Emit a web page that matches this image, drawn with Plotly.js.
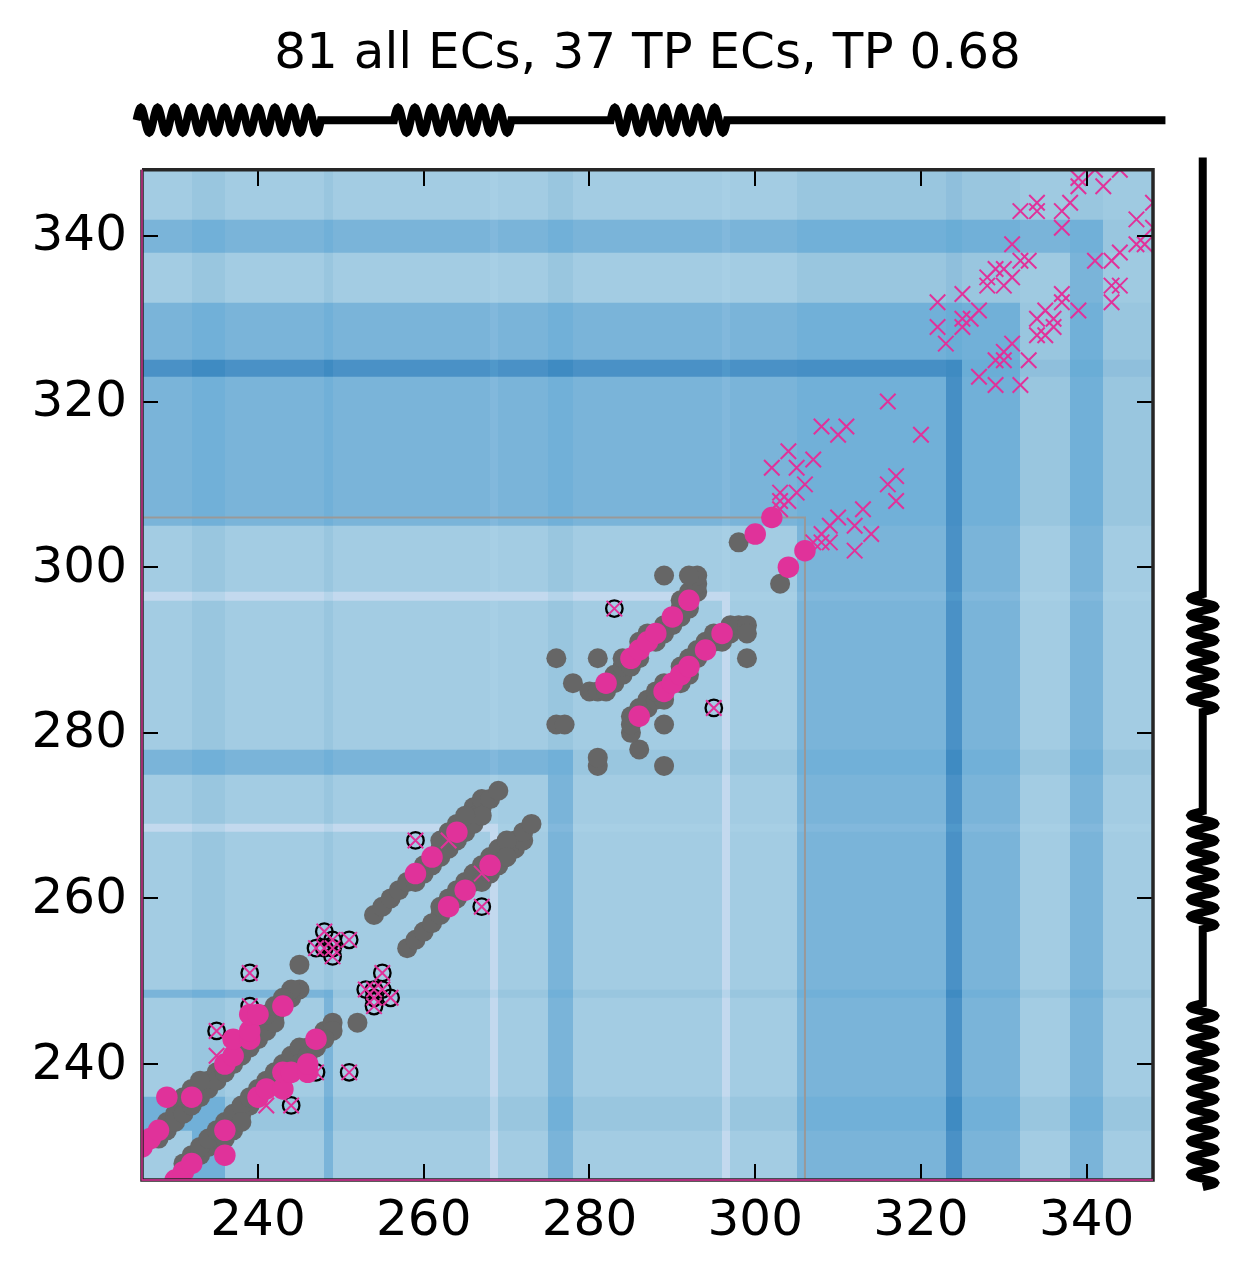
<!DOCTYPE html>
<html><head><meta charset="utf-8">
<script src="https://cdn.plot.ly/plotly-3.0.1.min.js"></script>
<style>html,body{margin:0;padding:0;background:#fff}</style>
</head><body><div id="chart" style="width:1245px;height:1275px"></div>
<script>
const titleText = "81 all ECs, 37 TP ECs, TP 0.68";
const tickVals = [240,260,280,300,320,340];
const tickText = ["240","260","280","300","320","340"];
const residueRange = [226,348];

// background matrix: band edges and band-by-band levels (symmetric)
const bandEdges = [226,232,236,248,249,268,269,275,278,296,297,305,323,325,332,338,342,348];
const bandLevels = [
/*A*/[.3,.7,.3,.6,.3,.05,.3,.6,.3,.05,.3,.6,.92,.6,.3,.6,.3],
/*B*/[.7,.7,.4,.7,.4,.12,.4,.7,.4,.12,.4,.7,1,.7,.4,.7,.4],
/*C*/[.3,.4,.3,.6,.3,.05,.3,.6,.3,.05,.3,.6,.92,.6,.3,.6,.3],
/*D*/[.6,.7,.6,.7,.4,.12,.4,.7,.4,.12,.4,.7,1,.7,.4,.7,.4],
/*E*/[.3,.4,.3,.4,.3,.05,.3,.6,.3,.05,.3,.6,.92,.6,.3,.6,.3],
/*F*/[.05,.12,.05,.12,.05,.05,.27,.55,.27,.05,.27,.55,.88,.55,.27,.55,.27],
/*G*/[.3,.4,.3,.4,.3,.27,.3,.6,.3,.05,.3,.6,.92,.6,.3,.6,.3],
/*H*/[.6,.7,.6,.7,.6,.55,.6,.7,.4,.12,.4,.7,1,.7,.4,.7,.4],
/*I*/[.3,.4,.3,.4,.3,.27,.3,.4,.3,.05,.3,.6,.92,.6,.3,.6,.3],
/*J*/[.05,.12,.05,.12,.05,.05,.05,.12,.05,.05,.27,.55,.88,.55,.27,.55,.27],
/*K*/[.3,.4,.3,.4,.3,.27,.3,.4,.3,.27,.3,.6,.92,.6,.3,.6,.3],
/*L*/[.6,.7,.6,.7,.6,.55,.6,.7,.6,.55,.6,.7,.95,.7,.4,.7,.4],
/*M*/[.92,1,.92,1,.92,.88,.92,1,.92,.88,.92,.95,1,.72,.47,.72,.47],
/*N*/[.6,.7,.6,.7,.6,.55,.6,.7,.6,.55,.6,.7,.72,.7,.4,.7,.4],
/*O*/[.3,.4,.3,.4,.3,.27,.3,.4,.3,.27,.3,.4,.47,.4,.33,.6,.33],
/*P*/[.6,.7,.6,.7,.6,.55,.6,.7,.6,.55,.6,.7,.72,.7,.6,.7,.4],
/*Q*/[.3,.4,.3,.4,.3,.27,.3,.4,.3,.27,.3,.4,.47,.4,.33,.4,.33]
];
const levelColors = [[0,'#c8dcf0'],[.05,'#c3d9ee'],[.12,'#b5d4ea'],[.27,'#a7cfe5'],[.3,'#a3cce3'],[.33,'#9fcae1'],[.4,'#99c6df'],[.47,'#8fbfdc'],[.55,'#82b8dc'],[.6,'#7ab4d9'],[.7,'#71b0d8'],[.72,'#6aadd6'],[.88,'#5098ca'],[.92,'#4a91c6'],[1,'#3f8bc2']];

// grey: observed contacts, upper triangle (mirrored for lower)
const greyI = [226,227,228,229,230,231,232,233,234,235,236,237,238,239,240,241,242,243,244,245,244,245,
 228,229,230,231,232,233,234,235,236,237,238,239,240,241,242,231,232,233,239,240,241,242,243,
 254,255,256,257,258,259,260,261,262,263,264,265,266,266,267,267,268,269,
 259,260,261,262,263,264,265,266,267,262,263,264,265,
 276,277,276,278,280,281,281,282,282,283,283,284,284,284,285,285,286,286,286,287,287,288,288,289,289,290,290,291,291,291,292,292,292,293,293,293,292,289,298];
const greyJ = [230,231,232,233,234,235,236,237,238,239,240,241,242,243,244,245,246,247,248,249,249,252,
 231,232,233,234,235,236,237,238,239,240,241,242,243,244,245,236,237,238,244,245,246,247,248,
 258,259,260,261,262,263,264,265,266,267,268,269,270,271,271,272,272,273,
 262,263,264,265,266,267,268,269,270,267,268,269,270,
 281,281,289,286,285,285,289,285,286,286,287,287,288,289,288,289,289,290,291,291,292,291,292,292,293,293,294,294,295,296,295,296,297,297,298,299,299,299,303];

// ringed: pink cross in a black ring, upper triangle
const ringI = [239,239,235,247,248,249,249,249,248,251,259,283];
const ringJ = [251,247,244,254,254,254,253,255,256,255,267,295];

// plain pink crosses, upper triangle
const crossI = [235,263,316,308,311,310,304,307,302,305,306,305,303,303,304,303,
 322,322,323,325,325,325,326,327,328,328,329,330,330,331,331,332,332,333,334,334,337,337,338,339,339,341,342,344];
const crossJ = [241,267,320,317,317,316,314,313,312,312,310,309,309,308,308,307,
 332,329,327,333,330,329,330,331,335,334,336,336,334,335,339,337,343,337,344,343,343,341,344,346,347,348,346,348];

// true-positive pink discs, upper triangle
const tpI = [226,227,228,229,232,236,237,237,239,239,239,240,243,259,261,264,282,285,286,287,288,290,292,300,302];
const tpJ = [230,231,232,236,236,240,241,243,243,244,246,246,247,263,265,268,286,289,290,291,292,294,296,304,306];

// secondary structure: helix spans [start,end,turns] along sequence
const helixTop = [[225.35,247.6,11],[256.4,270.57,7],[282.55,296.6,7]];
const helixRight = [[225.15,247.35,11],[256.3,270.55,7],[282.52,296.77,7]];
const chainEnd = 349.5;
const structPos = 354;
const coilAmp = 1.5;

(function(){
const scaleX = 8.287, scaleY = 8.28;
const pxLeft=142, pxRight=1153, pxTop=169.7, pxBottom=1180, W=1245, H=1275;

function chain(helices, sign){
  const along=[], across=[];
  helices.forEach(h=>{
    const n=h[2]*24;
    for(let i=0;i<=n;i++){
      const f=i/n;
      along.push(h[0]+(h[1]-h[0])*f);
      across.push(sign*coilAmp*Math.sin(2*Math.PI*h[2]*f));
    }
  });
  along.push(chainEnd); across.push(0);
  return {along,across};
}
const ct = chain(helixTop, 1);
const cr = chain(helixRight, 1);
const pink='#e0329a';

const traces = [
 {type:'heatmap',x:bandEdges,y:bandEdges,z:bandLevels,zmin:0,zmax:1,colorscale:levelColors,showscale:false,hoverinfo:'skip',zsmooth:false},
 {type:'scatter',mode:'lines',x:[226,306,306],y:[306,306,226],line:{color:'#999999',width:2},hoverinfo:'skip'},
 {type:'scatter',mode:'markers',x:greyI.concat(greyJ),y:greyJ.concat(greyI),marker:{size:20,color:'#666666',line:{width:0}}},
 {type:'scatter',mode:'markers',x:ringI.concat(ringJ),y:ringJ.concat(ringI),marker:{symbol:'circle-open',size:16.5,color:'#000000',line:{width:2.3,color:'#000000'}}},
 {type:'scatter',mode:'markers',x:crossI.concat(crossJ,ringI,ringJ),y:crossJ.concat(crossI,ringJ,ringI),marker:{symbol:'x-thin',size:15.5,color:pink,line:{width:2,color:pink}}},
 {type:'scatter',mode:'markers',x:tpI.concat(tpJ),y:tpJ.concat(tpI),marker:{size:21.5,color:pink,line:{width:0}}},
 {type:'scatter',mode:'lines',xaxis:'x2',yaxis:'y2',x:[226,348,348,226,226],y:[348,348,226,226,348],line:{color:'#262626',width:3.5},hoverinfo:'skip'},
 {type:'scatter',mode:'lines',xaxis:'x2',yaxis:'y2',x:[226,226,348],y:[348,226,226],line:{color:pink,width:1.3},hoverinfo:'skip'},
 {type:'scatter',mode:'lines',xaxis:'x2',yaxis:'y2',x:ct.along,y:ct.across.map(v=>structPos+v),line:{color:'#000',width:8,simplify:false},hoverinfo:'skip'},
 {type:'scatter',mode:'lines',xaxis:'x2',yaxis:'y2',x:cr.across.map(v=>structPos+v),y:cr.along,line:{color:'#000',width:8,simplify:false},hoverinfo:'skip'}
];

const axisBase = {
  range:residueRange,tickmode:'array',tickvals:tickVals,ticktext:tickText,
  ticks:'inside',ticklen:16,tickwidth:2,tickcolor:'#000',mirror:'ticks',showline:false,
  showgrid:false,zeroline:false,tickfont:{family:'DejaVu Sans',size:50,color:'#000'},automargin:false
};
const layout = {
  width:W,height:H,margin:{l:0,r:0,t:0,b:0},showlegend:false,paper_bgcolor:'#fff',plot_bgcolor:'rgba(0,0,0,0)',
  title:{text:titleText,font:{family:'DejaVu Sans',size:50,color:'#000'},xref:'paper',yref:'paper',x:647.5/W,xanchor:'center',y:1-50.5/H,yanchor:'middle'},
  xaxis:Object.assign({},axisBase,{domain:[pxLeft/W,pxRight/W],anchor:'y',ticklabelstandoff:4}),
  yaxis:Object.assign({},axisBase,{domain:[(H-pxBottom)/H,(H-pxTop)/H],anchor:'x',ticklabelstandoff:14,ticklabelshift:-3}),
  xaxis2:{domain:[0,1],range:[226-pxLeft/scaleX,226+(W-pxLeft)/scaleX],visible:false,anchor:'y2'},
  yaxis2:{domain:[0,1],range:[226-(H-pxBottom)/scaleY,226+pxBottom/scaleY],visible:false,anchor:'x2'}
};
Plotly.newPlot('chart',traces,layout,{displayModeBar:false,staticPlot:true});
})();
</script></body></html>
